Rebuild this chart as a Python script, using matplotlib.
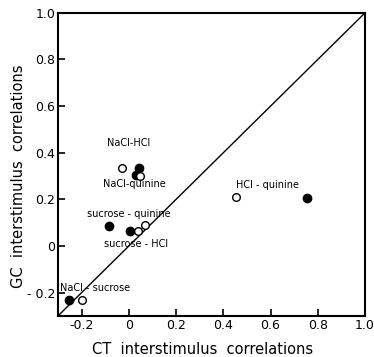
import matplotlib
matplotlib.use('Agg')
import matplotlib.pyplot as plt

# CT vs GC interstimulus correlations
filled_x = [0.045, 0.030, 0.755, -0.084, 0.004, -0.255]
filled_y = [0.335, 0.305, 0.205, 0.086, 0.064, -0.230]
open_x = [-0.030, 0.046, 0.455, 0.040, 0.070, -0.200]
open_y = [0.335, 0.300, 0.210, 0.064, 0.088, -0.230]

pair_labels = ["NaCl-HCl", "NaCl-quinine", "HCl - quinine",
               "sucrose - quinine", "sucrose - HCl", "NaCl - sucrose"]
label_x = [0.0, 0.025, 0.585, 0.0, 0.03, -0.145]
label_y = [0.44, 0.265, 0.26, 0.137, 0.008, -0.18]

x_ticks = [-0.2, 0, 0.2, 0.4, 0.6, 0.8, 1.0]
x_tick_labels = ["-0.2", "0", "0.2", "0.4", "0.6", "0.8", "1.0"]
y_ticks = [-0.2, 0, 0.2, 0.4, 0.6, 0.8, 1.0]
y_tick_labels = ["- 0.2", "0", "0.2", "0.4", "0.6", "0.8", "1.0"]

fig = plt.figure(figsize=(3.74, 3.57), dpi=100)
ax = fig.add_axes([0.155, 0.115, 0.821, 0.849])

# 对角线
ax.plot([-0.3, 1.0], [-0.3, 1.0], color='black', linewidth=1.0)

ax.plot(filled_x, filled_y, 'o', color='black', markersize=6, zorder=3)
ax.plot(open_x, open_y, 'o', markerfacecolor='white', markeredgecolor='black',
        markeredgewidth=1.0, markersize=5.5, zorder=3)

for x, y, label in zip(label_x, label_y, pair_labels):
    ax.text(x, y, label, ha='center', va='center', fontsize=7)

ax.set_xlim(-0.3, 1.0)
ax.set_ylim(-0.3, 1.0)
ax.set_xticks(x_ticks)
ax.set_xticklabels(x_tick_labels)
ax.set_yticks(y_ticks)
ax.set_yticklabels(y_tick_labels)
ax.tick_params(direction='in', length=5, width=1.2, labelsize=9, pad=2)
for s in ax.spines.values():
    s.set_linewidth(1.5)

ax.set_xlabel("CT  interstimulus  correlations", fontsize=10.5)
ax.set_ylabel("GC  interstimulus  correlations", fontsize=10.5)
ax.xaxis.set_label_coords(0.47, -0.085)
ax.yaxis.set_label_coords(-0.105, 0.46)

plt.savefig("out.png", dpi=100)
